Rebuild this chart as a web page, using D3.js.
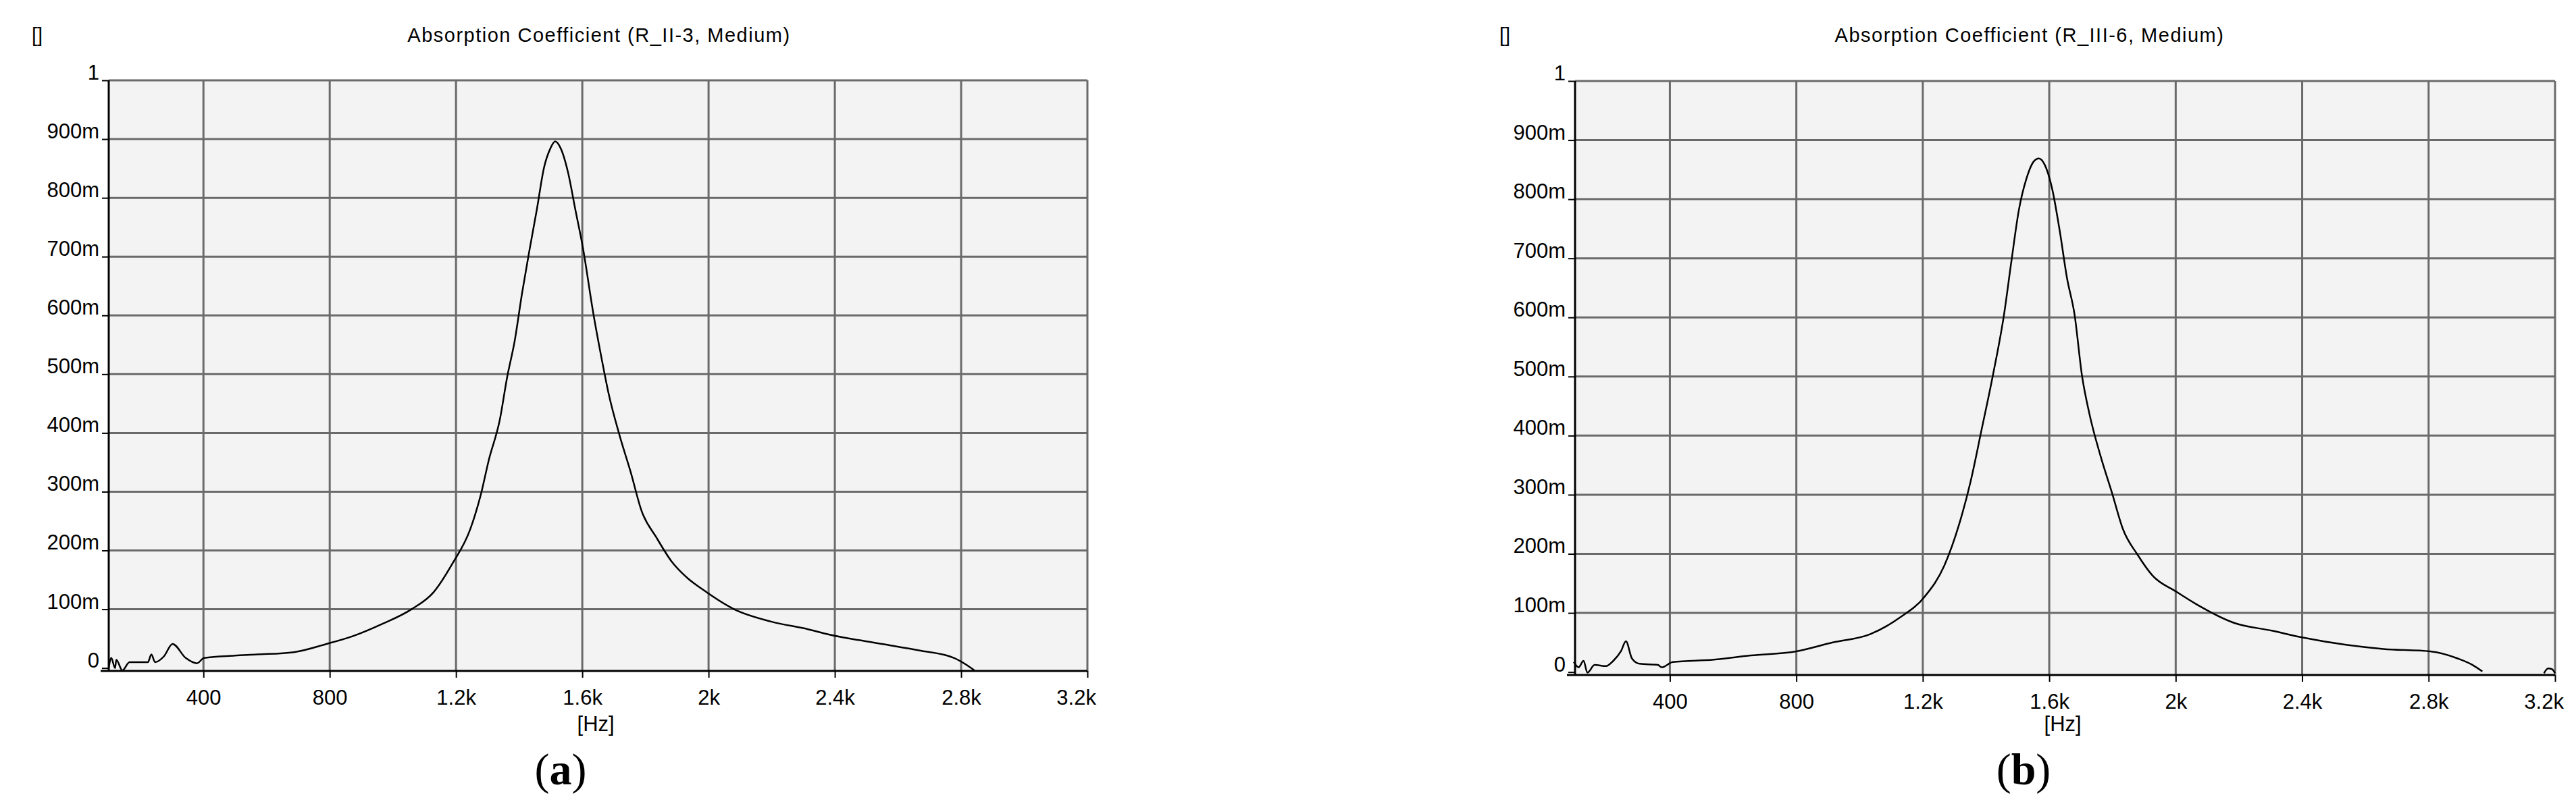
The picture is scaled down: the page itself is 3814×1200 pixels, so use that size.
<!DOCTYPE html>
<html><head><meta charset="utf-8">
<script src="https://cdn.jsdelivr.net/npm/d3@7"></script>
<style>body{margin:0;background:#fff}</style></head>
<body><svg id="c" width="3814" height="1200"></svg>
<script>
const xTicks=[400,800,1200,1600,2000,2400,2800,3200];
const xTickLabels=["400","800","1.2k","1.6k","2k","2.4k","2.8k","3.2k"];
const yTicks=[0,0.1,0.2,0.3,0.4,0.5,0.6,0.7,0.8,0.9,1];
const yTickLabels=["0","100m","200m","300m","400m","500m","600m","700m","800m","900m","1"];
const titles=["Absorption Coefficient (R_II-3, Medium)","Absorption Coefficient (R_III-6, Medium)"];
const panelLetters=["a","b"];
// panel a: [Hz, value]
const freqA=[100,108,120,124,143,166,224,235,247,275,302,344,379,402,499,569,686,790,872,966,1059,1129,1189,1245,1280,1303,1339,1362,1386,1409,1432,1456,1479,1498,1514,1531,1555,1578,1601,1636,1660,1683,1718,1753,1788,1835,1882,1929,1983,2081,2198,2315,2381,2549,2666,2778,2818,2842];
const valA=[0,0.017,0,0.014,-0.004,0.01,0.01,0.023,0.01,0.02,0.041,0.017,0.008,0.017,0.021,0.023,0.027,0.041,0.054,0.075,0.10,0.129,0.178,0.236,0.298,0.352,0.423,0.495,0.557,0.637,0.709,0.78,0.852,0.883,0.896,0.885,0.843,0.78,0.718,0.60,0.53,0.468,0.396,0.334,0.267,0.222,0.182,0.155,0.133,0.10,0.079,0.066,0.057,0.041,0.030,0.017,0.005,-0.004];
// panel b
const freqB=[96,111,127,139,162,198,221,245,261,280,304,362,374,409,539,656,800,915,1033,1127,1205,1268,1315,1351,1386,1421,1457,1480,1504,1528,1551,1567,1586,1609,1633,1656,1680,1704,1727,1762,1798,1833,1880,1927,2002,2068,2186,2304,2405,2539,2657,2805,2892,2939,2970];
const valB=[0.017,0.008,0.019,-0.001,0.012,0.01,0.019,0.035,0.052,0.023,0.014,0.012,0.008,0.017,0.021,0.028,0.035,0.05,0.064,0.092,0.127,0.18,0.25,0.322,0.41,0.50,0.605,0.694,0.782,0.835,0.864,0.869,0.858,0.818,0.747,0.667,0.605,0.50,0.437,0.366,0.304,0.242,0.198,0.163,0.136,0.114,0.083,0.07,0.058,0.046,0.039,0.035,0.023,0.012,0.001];
const tailB=[[3165,-0.002],[3178,0.006],[3190,0.005],[3200,-0.002]];

const svg=d3.select("#c");
svg.append("rect").attr("width",3814).attr("height",1200).attr("fill","#fff");
const FONT="'Liberation Sans Narrow','Liberation Sans',Arial,sans-serif";
const panels=[
 {x0:161,x1:1610,y0:119,y1:994,freq:freqA,val:valA,tail:null,lblX:830,bracketX:55,titleX:887},
 {x0:2332,x1:3783,y0:120,y1:1000,freq:freqB,val:valB,tail:tailB,lblX:2996,bracketX:2228,titleX:3005}
];
panels.forEach((p,i)=>{
  const g=svg.append("g");
  const x=d3.scaleLinear().domain([100,3200]).range([p.x0,p.x1]);
  const y=d3.scaleLinear().domain([-0.005,1]).range([p.y1,p.y0]);
  g.append("rect").attr("x",p.x0).attr("y",p.y0).attr("width",p.x1-p.x0).attr("height",p.y1-p.y0).attr("fill","#f3f3f3");
  g.selectAll(".gx").data(xTicks).join("line").attr("x1",d=>x(d)).attr("x2",d=>x(d)).attr("y1",p.y0).attr("y2",p.y1).attr("stroke","#6a6a6a").attr("stroke-width",3);
  g.selectAll(".gy").data(yTicks.slice(1)).join("line").attr("x1",p.x0).attr("x2",p.x1).attr("y1",d=>y(d)).attr("y2",d=>y(d)).attr("stroke","#6a6a6a").attr("stroke-width",3);
  const ax=d3.axisBottom(x).tickValues(xTicks).tickFormat((d,j)=>xTickLabels[j]).tickSize(10).tickSizeOuter(0);
  const xa=g.append("g").attr("transform",`translate(0,${p.y1})`).call(ax);
  xa.select(".domain").attr("stroke","#000").attr("stroke-width",3).attr("d",`M${p.x0-12},0H${p.x1}`);
  xa.selectAll(".tick line").attr("stroke","#000").attr("stroke-width",2);
  xa.selectAll("text").attr("font-family",FONT).attr("font-size",31).attr("fill","#000").attr("dy","1.2em").attr("text-anchor",(d)=>d===3200?"end":"middle").attr("dx",d=>d===3200?"0.4em":0);
  const ay=d3.axisLeft(y).tickValues(yTicks).tickFormat((d,j)=>yTickLabels[j]).tickSize(10).tickSizeOuter(0);
  const ya=g.append("g").attr("transform",`translate(${p.x0},0)`).call(ay);
  ya.select(".domain").attr("stroke","#000").attr("stroke-width",3).attr("d",`M0,${p.y0}V${p.y1}`);
  ya.selectAll(".tick line").attr("stroke","#000").attr("stroke-width",2);
  ya.selectAll("text").attr("font-family",FONT).attr("font-size",31).attr("fill","#000").attr("dy","-0.05em").attr("x",-14);
  const line=d3.line().x(d=>x(d[0])).y(d=>y(d[1])).curve(d3.curveMonotoneX);
  const pts=p.freq.map((f,j)=>[f,p.val[j]]);
  g.append("path").datum(pts).attr("d",line).attr("fill","none").attr("stroke","#000").attr("stroke-width",2.5);
  if(p.tail) g.append("path").datum(p.tail).attr("d",line).attr("fill","none").attr("stroke","#000").attr("stroke-width",2.5);
  g.append("text").attr("x",p.titleX).attr("y",62).attr("text-anchor","middle").attr("font-family",FONT).attr("font-size",29).attr("letter-spacing",1.5).text(titles[i]);
  g.append("text").attr("x",p.bracketX).attr("y",62).attr("text-anchor","middle").attr("font-family",FONT).attr("font-size",29).text("[]");
  g.append("text").attr("x",x(1600)+20).attr("y",1083).attr("text-anchor","middle").attr("font-family",FONT).attr("font-size",31).text("[Hz]");
  const t=g.append("text").attr("x",p.lblX).attr("y",1162).attr("text-anchor","middle").attr("font-family","'Liberation Serif','DejaVu Serif',serif").attr("font-size",66);
  t.append("tspan").text("(");
  t.append("tspan").attr("font-weight","bold").text(panelLetters[i]);
  t.append("tspan").text(")");
});
</script></body></html>
